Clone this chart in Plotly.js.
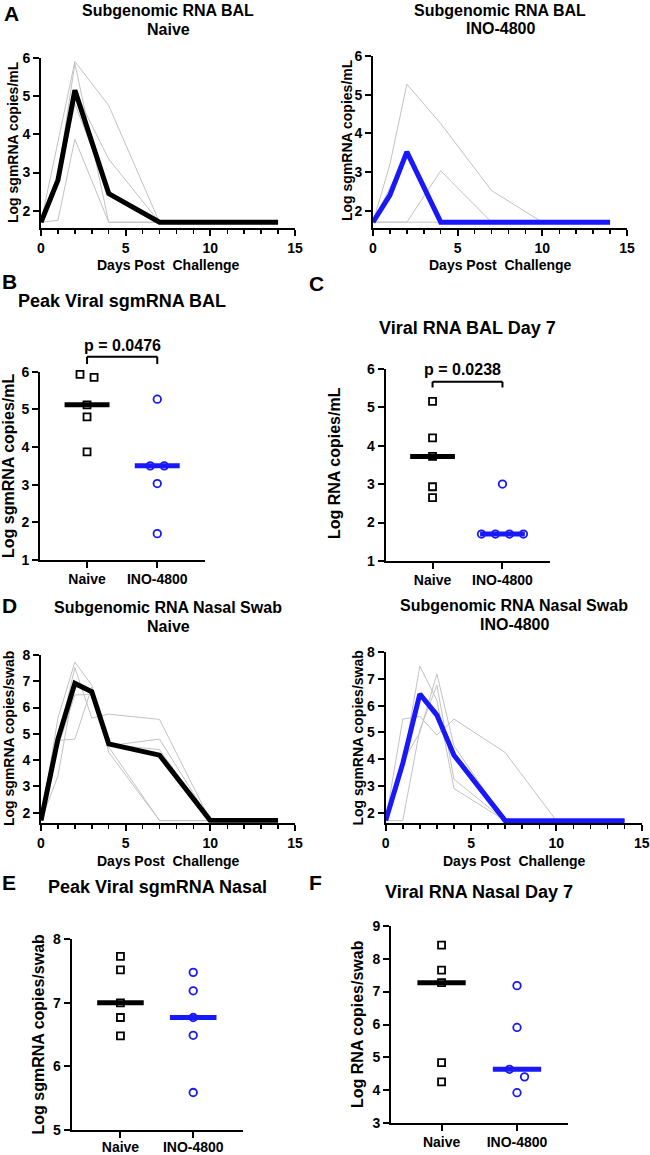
<!DOCTYPE html>
<html><head><meta charset="utf-8">
<script src="https://cdn.plot.ly/plotly-3.0.1.min.js"></script>
<style>html,body{margin:0;padding:0;background:#fff;} #chart{width:650px;height:1155px;}</style>
</head><body><div id="chart"></div>
<script>
// ---------------- data ----------------
const groups = ['Naive', 'INO-4800'];

const balDays = [0, 1, 2, 4, 7, 10, 14];
const balNaive1 = [1.70, 3.80, 5.90, 4.75, 1.70, 1.70, 1.70];
const balNaive2 = [1.70, 2.90, 5.85, 1.70, 1.70, 1.70, 1.70];
const balNaive3 = [1.70, 1.75, 3.87, 1.70, 1.70, 1.70, 1.70];
const balNaive4 = [1.70, 2.80, 5.12, 3.35, 1.70, 1.70, 1.70];
const balNaive5 = [1.70, 2.70, 4.80, 2.50, 1.70, 1.70, 1.70];
const balNaiveMean = [1.70, 2.80, 5.15, 2.45, 1.70, 1.70, 1.70];
const balIno1 = [1.70, 3.20, 5.27, 4.25, 2.52, 1.70, 1.70];
const balIno2 = [1.70, 1.70, 1.70, 3.03, 1.70, 1.70, 1.70];
const balIno3 = [1.70, 2.40, 3.50, 1.70, 1.70, 1.70, 1.70];
const balIno4 = [1.70, 2.60, 3.45, 1.70, 1.70, 1.70, 1.70];
const balIno5 = [1.70, 1.70, 1.70, 1.70, 1.70, 1.70, 1.70];
const balInoMean = [1.70, 2.40, 3.52, 1.70, 1.70, 1.70, 1.70];

const nasalDays = [0, 1, 2, 3, 4, 7, 10, 14];
const nasalNaive1 = [1.70, 5.60, 7.73, 6.85, 4.30, 1.70, 1.70, 1.70];
const nasalNaive2 = [1.70, 4.75, 7.52, 5.60, 5.75, 5.55, 1.70, 1.70];
const nasalNaive3 = [1.70, 3.40, 7.00, 6.60, 4.50, 1.70, 1.70, 1.70];
const nasalNaive4 = [1.70, 4.75, 4.80, 6.77, 4.55, 4.80, 1.70, 1.70];
const nasalNaive5 = [1.70, 4.50, 6.48, 6.50, 4.60, 4.40, 1.70, 1.70];
const nasalNaiveMean = [1.70, 4.80, 6.92, 6.60, 4.62, 4.19, 1.70, 1.70];
const nasalIno1 = [1.70, 5.50, 5.60, 4.90, 5.50, 4.25, 1.70, 1.70];
const nasalIno2 = [1.70, 3.80, 7.48, 6.20, 2.90, 1.70, 1.70, 1.70];
const nasalIno3 = [1.70, 3.90, 5.00, 7.19, 4.50, 1.70, 1.70, 1.70];
const nasalIno4 = [1.70, 1.70, 5.10, 6.77, 3.25, 1.70, 1.70, 1.70];
const nasalIno5 = [1.70, 3.70, 6.49, 5.80, 4.10, 1.70, 1.70, 1.70];
const nasalInoMean = [1.70, 3.84, 6.44, 5.65, 4.15, 1.70, 1.70, 1.70];

const peakBalNaive = [5.93, 5.85, 5.12, 4.80, 3.87];
const peakBalIno = [5.27, 3.50, 3.50, 3.03, 1.70];
const day7BalNaive = [5.15, 4.20, 3.72, 2.93, 2.65];
const day7BalIno = [3.00, 1.70, 1.70, 1.70, 1.70];
const peakNasalNaive = [7.73, 7.52, 7.00, 6.77, 6.48];
const peakNasalIno = [7.48, 7.19, 6.77, 6.49, 5.59];
const day7NasalNaive = [8.41, 7.65, 7.27, 4.84, 4.26];
const day7NasalIno = [7.18, 5.91, 4.64, 4.41, 3.93];

const pBal = 'p = 0.0476';
const pBalDay7 = 'p = 0.0238';

// ---------------- styling / layout ----------------
const W = 650, H = 1155;
const FONT = 'Liberation Sans, Arial, Helvetica, sans-serif';
const BLUE = 'rgb(24,24,250)';
const GRAY = '#c2c2c2';
const BLACK = '#000';

function dx(a, b) { return [a / W, b / W]; }
function dy(top, bot) { return [1 - bot / H, 1 - top / H]; }
function px(x) { return x / W; }
function py(y) { return 1 - y / H; }

const tickFont = {family: FONT, size: 14, color: '#000', weight: 'bold'};
function axisBase() {
  return {showline: true, linecolor: '#000', linewidth: 2, ticks: 'outside', ticklen: 6,
          tickwidth: 2, tickcolor: '#000', showgrid: false, zeroline: false,
          tickfont: tickFont, fixedrange: true};
}

const layout = {width: W, height: H, margin: {l: 0, r: 0, t: 0, b: 0},
  paper_bgcolor: '#fff', plot_bgcolor: 'rgba(0,0,0,0)', showlegend: false,
  annotations: [], shapes: []};
const data = [];

function addAxes(n, xpx, ypx, xcfg, ycfg) {
  const s = n === 1 ? '' : String(n);
  layout['xaxis' + s] = Object.assign(axisBase(), {domain: dx(xpx[0], xpx[1]), anchor: 'y' + s}, xcfg);
  layout['yaxis' + s] = Object.assign(axisBase(), {domain: dy(ypx[0], ypx[1]), anchor: 'x' + s}, ycfg);
  return {x: 'x' + s, y: 'y' + s, ypx: ypx, yr: ycfg.range};
}

const timeX = () => ({range: [0, 15], tick0: 0, dtick: 5,
  minor: {dtick: 1, ticks: 'outside', ticklen: 4, tickwidth: 1.5, tickcolor: '#000', showgrid: false}});
const catX = (standoff) => ({range: [-0.67, 1.68], tickvals: [0, 1], ticktext: groups,
  ticklabelstandoff: standoff || 0});

function timePanel(ax, days, series, mean, color) {
  series.forEach(s => data.push({type: 'scatter', mode: 'lines', x: days, y: s,
    xaxis: ax.x, yaxis: ax.y, line: {color: GRAY, width: 1}, hoverinfo: 'skip'}));
  data.push({type: 'scatter', mode: 'lines', x: days, y: mean, xaxis: ax.x, yaxis: ax.y,
    line: {color: color, width: 5}, hoverinfo: 'skip'});
}

function median(v) {
  const s = v.slice().sort((a, b) => a - b);
  const n = s.length;
  return n % 2 ? s[(n - 1) / 2] : (s[n / 2 - 1] + s[n / 2]) / 2;
}
// horizontal spreading of overlapping points (like a column scatter)
function spread(vals, thr, step) {
  const idx = vals.map((v, i) => i).sort((a, b) => vals[b] - vals[a]);
  const off = vals.map(() => 0);
  let cl = [idx[0]];
  const assign = c => c.forEach((i, j) => { off[i] = (j - (c.length - 1) / 2) * step; });
  for (let k = 1; k < idx.length; k++) {
    if (vals[cl[cl.length - 1]] - vals[idx[k]] < thr) cl.push(idx[k]);
    else { assign(cl); cl = [idx[k]]; }
  }
  assign(cl);
  return off;
}

function dotPanel(ax, sets) {
  const pxPerUnit = (ax.ypx[1] - ax.ypx[0]) / (ax.yr[1] - ax.yr[0]);
  sets.forEach((g, gi) => {
    const off = spread(g.vals, 9 / pxPerUnit, 0.2);
    data.push({type: 'scatter', mode: 'markers', x: g.vals.map((v, i) => gi + off[i]), y: g.vals,
      xaxis: ax.x, yaxis: ax.y, cliponaxis: false, hoverinfo: 'skip',
      marker: {symbol: g.symbol, size: g.size, color: g.color, line: {color: g.color, width: 1.8}}});
    const m = median(g.vals);
    data.push({type: 'scatter', mode: 'lines', x: [gi - 0.32, gi + 0.32], y: [m, m],
      xaxis: ax.x, yaxis: ax.y, line: {color: g.color, width: 5}, hoverinfo: 'skip'});
  });
}

function T(text, x, y, size, extra) {
  layout.annotations.push(Object.assign({text: text, x: px(x), y: py(y), xref: 'paper', yref: 'paper',
    showarrow: false, xanchor: 'center', yanchor: 'middle',
    font: {family: FONT, size: size, color: '#000', weight: 'bold'}}, extra || {}));
}

function bracket(ax, text, yLine, yLeg, yText, textShift) {
  const ln = (x0, y0, x1, y1) => layout.shapes.push({type: 'line', xref: ax.x, yref: 'paper',
    x0: x0, x1: x1, y0: py(y0), y1: py(y1), line: {color: '#000', width: 2}});
  ln(0, yLine, 1, yLine); ln(0, yLine, 0, yLeg); ln(1, yLine, 1, yLeg);
  layout.annotations.push({text: text, xref: ax.x, yref: 'paper', x: 0.5, y: py(yText),
    xshift: textShift || 0, showarrow: false, xanchor: 'center', yanchor: 'middle',
    font: {family: FONT, size: 16, color: '#000', weight: 'bold'}});
}

// ---------------- panels ----------------
const aL = addAxes(1, [41, 295], [57.7, 228], timeX(), {range: [1.55, 6], dtick: 1});
const aR = addAxes(2, [373, 627], [56, 228], timeX(), {range: [1.55, 6], dtick: 1});
const pB = addAxes(3, [40, 205], [371.7, 560], catX(-1), {range: [1, 6], dtick: 1});
const pC = addAxes(4, [385.7, 550], [368.7, 561], catX(-1), {range: [1, 6], dtick: 1});
const dL = addAxes(5, [41, 295], [655, 822.7], timeX(), {range: [1.62, 8], dtick: 1});
const dR = addAxes(6, [385.7, 641.7], [652.3, 823.3], timeX(), {range: [1.6, 8], dtick: 1});
const pE = addAxes(7, [71.7, 242.7], [939.3, 1130], catX(-3), {range: [5, 8], dtick: 1});
const pF = addAxes(8, [391, 568.3], [925.7, 1123.3], catX(-1), {range: [3, 9], dtick: 1});

timePanel(aL, balDays, [balNaive1, balNaive2, balNaive3, balNaive4, balNaive5], balNaiveMean, BLACK);
timePanel(aR, balDays, [balIno1, balIno2, balIno3, balIno4, balIno5], balInoMean, BLUE);
timePanel(dL, nasalDays, [nasalNaive1, nasalNaive2, nasalNaive3, nasalNaive4, nasalNaive5], nasalNaiveMean, BLACK);
timePanel(dR, nasalDays, [nasalIno1, nasalIno2, nasalIno3, nasalIno4, nasalIno5], nasalInoMean, BLUE);

const naiveSet = v => ({vals: v, symbol: 'square-open', size: 7, color: BLACK});
const inoSet = v => ({vals: v, symbol: 'circle-open', size: 7.5, color: BLUE});
dotPanel(pB, [naiveSet(peakBalNaive), inoSet(peakBalIno)]);
dotPanel(pC, [naiveSet(day7BalNaive), inoSet(day7BalIno)]);
dotPanel(pE, [naiveSet(peakNasalNaive), inoSet(peakNasalIno)]);
dotPanel(pF, [naiveSet(day7NasalNaive), inoSet(day7NasalIno)]);

bracket(pB, pBal, 356.7, 364, 345, 0);
bracket(pC, pBalDay7, 381.7, 387.5, 369.5, -5);

// ---------------- text ----------------
const rot = {textangle: -90};
const days = 'Days Post\u00a0 Challenge';
T('A', 11, 14, 21);
T('Subgenomic RNA BAL', 168, 10.5, 16); T('Naive', 168, 29.5, 16);
T('Subgenomic RNA BAL', 500, 10, 16); T('INO-4800', 500, 29, 16);
T('Log sgmRNA copies/mL', 13, 142, 14, rot);
T('Log sgmRNA copies/mL', 347, 140, 14, rot);
T(days, 168, 265, 14); T(days, 500, 265, 14);

T('B', 9, 281, 21); T('C', 316, 283, 21);
T('Peak Viral sgmRNA BAL', 122, 301, 18);
T('Viral RNA BAL Day 7', 467, 328, 18);
T('Log sgmRNA copies/mL', 8, 466, 16, rot);
T('Log RNA copies/mL', 335, 463, 16, rot);

T('D', 9, 605, 21);
T('Subgenomic RNA Nasal Swab', 168, 607.5, 16); T('Naive', 168, 626, 16);
T('Subgenomic RNA Nasal Swab', 514, 605.3, 16); T('INO-4800', 514, 624, 16);
T('Log sgmRNA copies/swab', 9, 739, 14, rot);
T('Log sgmRNA copies/swab', 357.5, 738, 14, rot);
T(days, 168, 861, 14); T(days, 514, 861, 14);

T('E', 9, 882, 21); T('F', 315, 882, 21);
T('Peak Viral sgmRNA Nasal', 157, 887, 18);
T('Viral RNA Nasal Day 7', 479, 892, 18);
T('Log sgmRNA copies/swab', 37.5, 1034, 16, rot);
T('Log RNA copies/swab', 357.5, 1024.5, 16, rot);

Plotly.newPlot('chart', data, layout, {displayModeBar: false, staticPlot: true});
</script>
</body></html>
